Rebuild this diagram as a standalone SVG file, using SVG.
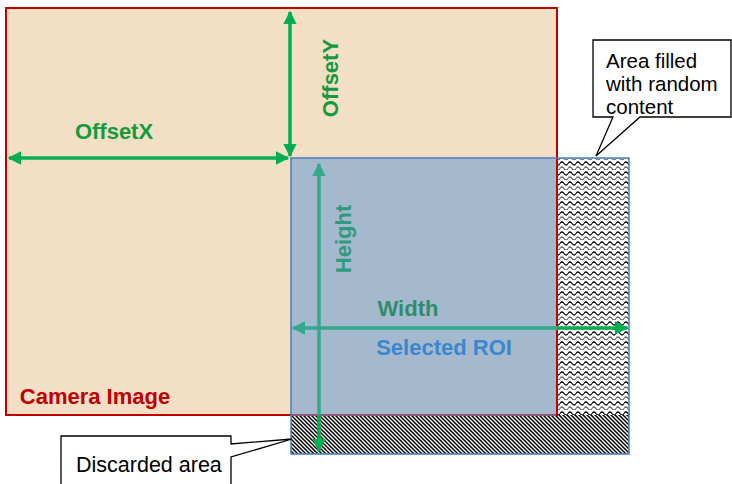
<svg xmlns="http://www.w3.org/2000/svg" width="732" height="484" viewBox="0 0 732 484">
<style>
.lbl{font-family:"Liberation Sans",Arial,sans-serif;font-weight:bold;font-size:22px;text-anchor:middle}
.note{font-family:"Liberation Sans",Arial,sans-serif;font-size:20.5px;fill:#000}
.g{stroke:#00B050;stroke-width:3.5;fill:none}
.t{stroke:#33A88C;stroke-width:3.5;fill:none}
.callout{fill:#fff;stroke:#000;stroke-width:1.3}
</style>
<defs>
<marker id="hg" viewBox="0 0 10 10" refX="9" refY="5" markerWidth="4.2" markerHeight="3.8" orient="auto-start-reverse" markerUnits="strokeWidth"><path d="M0 0L10 5L0 10z" fill="#00B050"/></marker>
<marker id="ht" viewBox="0 0 10 10" refX="9" refY="5" markerWidth="4.2" markerHeight="3.8" orient="auto-start-reverse" markerUnits="strokeWidth"><path d="M0 0L10 5L0 10z" fill="#33A88C"/></marker>
<pattern id="wave" width="8" height="10" patternUnits="userSpaceOnUse">
<rect width="8" height="10" fill="#fff"/>
<path d="M0 3.5Q2 0.5 4 3.5T8 3.5" fill="none" stroke="#000" stroke-width="1.3"/>
<path d="M0 8.5Q2 5.5 4 8.5T8 8.5" fill="none" stroke="#666" stroke-width="1.3"/>
</pattern>
<pattern id="diag" width="4" height="4" patternUnits="userSpaceOnUse">
<rect width="4" height="4" fill="#fff"/>
<path d="M-1 -1L5 5M-1 3L1 5M3 -1L5 1" stroke="#000" stroke-width="1.5"/>
</pattern>
</defs>

<g id="camera-image">
<rect x="6" y="8" width="551" height="407" fill="#F2DFC6" stroke="#C00000" stroke-width="2"/>
<text class="lbl" x="95" y="404" fill="#C00000">Camera Image</text>
</g>

<g id="roi">
<rect x="557" y="158" width="72" height="257" fill="url(#wave)"/>
<rect x="291" y="415" width="338" height="39" fill="url(#diag)"/>
<rect x="291" y="158" width="266" height="257" fill="#A4B9CD"/>
<line x1="291" y1="415" x2="557" y2="415" stroke="#8E5A78" stroke-width="2"/>
<line x1="557" y1="158" x2="557" y2="416" stroke="#C00000" stroke-width="2"/>
<rect x="291" y="158" width="338" height="296" fill="none" stroke="#4A7EBB" stroke-width="1.5"/>
<text class="lbl" x="444" y="355" fill="#3A87D0">Selected ROI</text>
</g>

<g id="connectors">
<line class="g" x1="290" y1="12" x2="290" y2="156" marker-start="url(#hg)" marker-end="url(#hg)"/>
<line class="g" x1="9" y1="158" x2="288" y2="158" marker-start="url(#hg)" marker-end="url(#hg)"/>
<line class="t" x1="319" y1="164" x2="319" y2="416" marker-start="url(#ht)"/>
<line class="g" x1="319" y1="415" x2="319" y2="451" marker-end="url(#hg)"/>
<line class="t" x1="293" y1="328" x2="558" y2="328" marker-start="url(#ht)"/>
<line class="g" x1="557" y1="328" x2="627" y2="328" marker-end="url(#hg)"/>
</g>

<g id="labels">
<text class="lbl" x="114" y="139" fill="#129A3B">OffsetX</text>
<text class="lbl" transform="translate(338,78) rotate(-90)" fill="#129A3B">OffsetY</text>
<text class="lbl" transform="translate(351,239) rotate(-90)" fill="#2F9B7D">Height</text>
<text class="lbl" x="408" y="316" fill="#2E8C6C">Width</text>
</g>

<g id="callout-random">
<path class="callout" d="M593 40H731V117H640L596 156L613 117H593Z"/>
<text class="note" x="606" y="68">Area filled</text>
<text class="note" x="606" y="91">with random</text>
<text class="note" x="606" y="114">content</text>
</g>

<g id="callout-discarded">
<path class="callout" d="M61 436H231V444L292 439L231 457V490H61Z"/>
<text class="note" x="76" y="472" style="font-size:21.5px">Discarded area</text>
</g>
</svg>
